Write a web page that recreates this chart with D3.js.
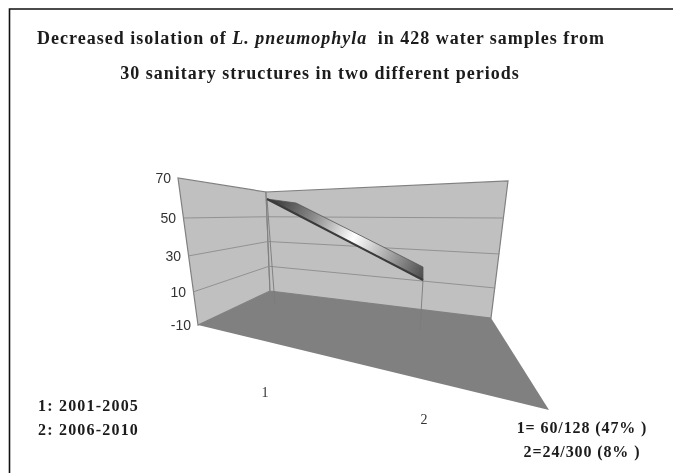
<!DOCTYPE html>
<html>
<head>
<meta charset="utf-8">
<script src="https://cdn.jsdelivr.net/npm/d3@7"></script>
<style>
  html, body { margin: 0; padding: 0; background: #fff; }
  svg { display: block; }
  .note { font-family: "Liberation Serif", serif; font-weight: bold; fill: #1a1a1a; }
</style>
</head>
<body>
<svg id="chart" width="673" height="473"></svg>
<script>
// data
var categories = [1, 2];
var isolated = [60, 24];
var yTicks = [-10, 10, 30, 50, 70];
var periods = ['1: 2001-2005', '2: 2006-2010'];
var rates = ['1= 60/128 (47% )', '2=24/300 (8% )'];

var svg = d3.select('#chart');

// one scale per wall edge, the perspective squeezes the ticks differently
var leftY = d3.scaleLinear().domain(yTicks).range([325, 292, 256, 218, 178]);
var leftX = d3.scaleLinear().domain([-10, 70]).range([198, 178]);
var cornerY = d3.scaleLinear().domain([-10, 70]).range([291, 192]);
var cornerX = d3.scaleLinear().domain([-10, 70]).range([270, 266]);
var rightY = d3.scaleLinear().domain(yTicks).range([318, 288, 254, 218, 181]);
var rightX = d3.scaleLinear().domain([-10, 70]).range([491, 508]);

var line = d3.line();

// soft look of the scanned figure
var defs = svg.append('defs');
defs.append('filter').attr('id', 'soft')
  .append('feGaussianBlur').attr('stdDeviation', 0.5);

var grad = defs.append('linearGradient').attr('id', 'ribbon')
  .attr('gradientUnits', 'userSpaceOnUse')
  .attr('x1', 275).attr('y1', 200).attr('x2', 425).attr('y2', 275);
[[0, '#3c3c3c'], [0.25, '#8a8a8a'], [0.52, '#ffffff'], [0.75, '#a8a8a8'], [1, '#4a4a4a']]
  .forEach(function(s) {
    grad.append('stop').attr('offset', s[0]).attr('stop-color', s[1]);
  });

// frame, only top and left are visible
svg.append('path')
  .attr('d', line([[9.5, 473], [9.5, 9], [673, 9]]))
  .attr('fill', 'none').attr('stroke', '#111').attr('stroke-width', 1.6);

var plot = svg.append('g').attr('filter', 'url(#soft)');

// walls and floor
plot.append('path')
  .attr('d', line([[leftX(-10), leftY(-10)], [leftX(70), leftY(70)], [cornerX(70), cornerY(70)], [cornerX(-10), cornerY(-10)]]) + 'Z')
  .attr('fill', '#c0c0c0').attr('stroke', '#808080').attr('stroke-width', 1.2);
plot.append('path')
  .attr('d', line([[cornerX(-10), cornerY(-10)], [cornerX(70), cornerY(70)], [rightX(70), rightY(70)], [rightX(-10), rightY(-10)]]) + 'Z')
  .attr('fill', '#c0c0c0').attr('stroke', '#808080').attr('stroke-width', 1.2);
plot.append('path')
  .attr('d', line([[leftX(-10), leftY(-10)], [cornerX(-10), cornerY(-10)], [rightX(-10), rightY(-10)], [549, 410]]) + 'Z')
  .attr('fill', '#808080');

// gridlines
yTicks.slice(1, 4).forEach(function(v) {
  plot.append('path')
    .attr('d', line([[leftX(v), leftY(v)], [cornerX(v), cornerY(v)], [rightX(v), rightY(v)]]))
    .attr('fill', 'none').attr('stroke', '#8c8c8c').attr('stroke-width', 0.9);
});

// ribbon plane: each category has its own vertical scale
var catX = d3.scaleLinear().domain([1, 2]).range([267, 423]);
var catY = [
  d3.scaleLinear().domain([-10, 60]).range([305, 199]),
  d3.scaleLinear().domain([-10, 24]).range([330, 280])
];
var dropX = d3.scaleLinear().domain([1, 2]).range([275, 420]);

categories.forEach(function(c, i) {
  plot.append('path')
    .attr('d', line([[catX(c), catY[i](isolated[i])], [dropX(c), catY[i](-10)]]))
    .attr('stroke', '#7a7a7a').attr('stroke-width', 0.9).attr('fill', 'none');
});

// top face of the ribbon sits a little behind the front edge
var front = categories.map(function(c, i) { return [catX(c), catY[i](isolated[i])]; });
var backOffset = [[29, 4], [0, -13]];
var back = front.map(function(p, i) { return [p[0] + backOffset[i][0], p[1] + backOffset[i][1]]; });

plot.append('path')
  .attr('d', line([front[0], back[0], back[1], front[1]]) + 'Z')
  .attr('fill', 'url(#ribbon)').attr('stroke', '#555').attr('stroke-width', 0.8);
plot.append('path')
  .attr('d', line(front))
  .attr('stroke', '#3a3a3a').attr('stroke-width', 2).attr('fill', 'none');

// y tick labels
plot.selectAll('text.ytick').data(yTicks).enter().append('text')
  .attr('class', 'ytick')
  .attr('x', function(d) { return leftX(d) - 7; })
  .attr('y', function(d) { return leftY(d); })
  .attr('dy', '0.35em')
  .attr('text-anchor', 'end')
  .attr('font-family', '"Liberation Sans", sans-serif')
  .attr('font-size', 14)
  .attr('fill', '#333')
  .text(function(d) { return d; });

// category labels
var labelX = d3.scaleLinear().domain([1, 2]).range([265, 424]);
var labelY = d3.scaleLinear().domain([1, 2]).range([397, 424]);
plot.selectAll('text.cat').data(categories).enter().append('text')
  .attr('class', 'cat')
  .attr('x', function(d) { return labelX(d); })
  .attr('y', function(d) { return labelY(d); })
  .attr('text-anchor', 'middle')
  .attr('font-family', '"Liberation Serif", serif')
  .attr('font-size', 14)
  .attr('fill', '#333')
  .text(function(d) { return d; });

// title, legend and rates
var notes = svg.append('g').attr('class', 'note').attr('filter', 'url(#soft)');

var title = notes.append('text')
  .attr('x', 321).attr('y', 44).attr('text-anchor', 'middle')
  .attr('font-size', 18).attr('letter-spacing', 1);
title.append('tspan').text('Decreased isolation of ');
title.append('tspan').attr('font-style', 'italic').text('L. pneumophyla');
title.append('tspan').attr('dx', 5).text(' in 428 water samples from');

notes.append('text')
  .attr('x', 320).attr('y', 79).attr('text-anchor', 'middle')
  .attr('font-size', 18).attr('letter-spacing', 1)
  .text('30 sanitary structures in two different periods');

notes.selectAll('text.period').data(periods).enter().append('text')
  .attr('class', 'period')
  .attr('x', 38)
  .attr('y', function(d, i) { return 411 + i * 24; })
  .attr('font-size', 16).attr('letter-spacing', 1.2)
  .text(function(d) { return d; });

notes.selectAll('text.rate').data(rates).enter().append('text')
  .attr('class', 'rate')
  .attr('x', 582)
  .attr('y', function(d, i) { return 433 + i * 24; })
  .attr('text-anchor', 'middle')
  .attr('font-size', 16).attr('letter-spacing', 0.9)
  .text(function(d) { return d; });
</script>
</body>
</html>
